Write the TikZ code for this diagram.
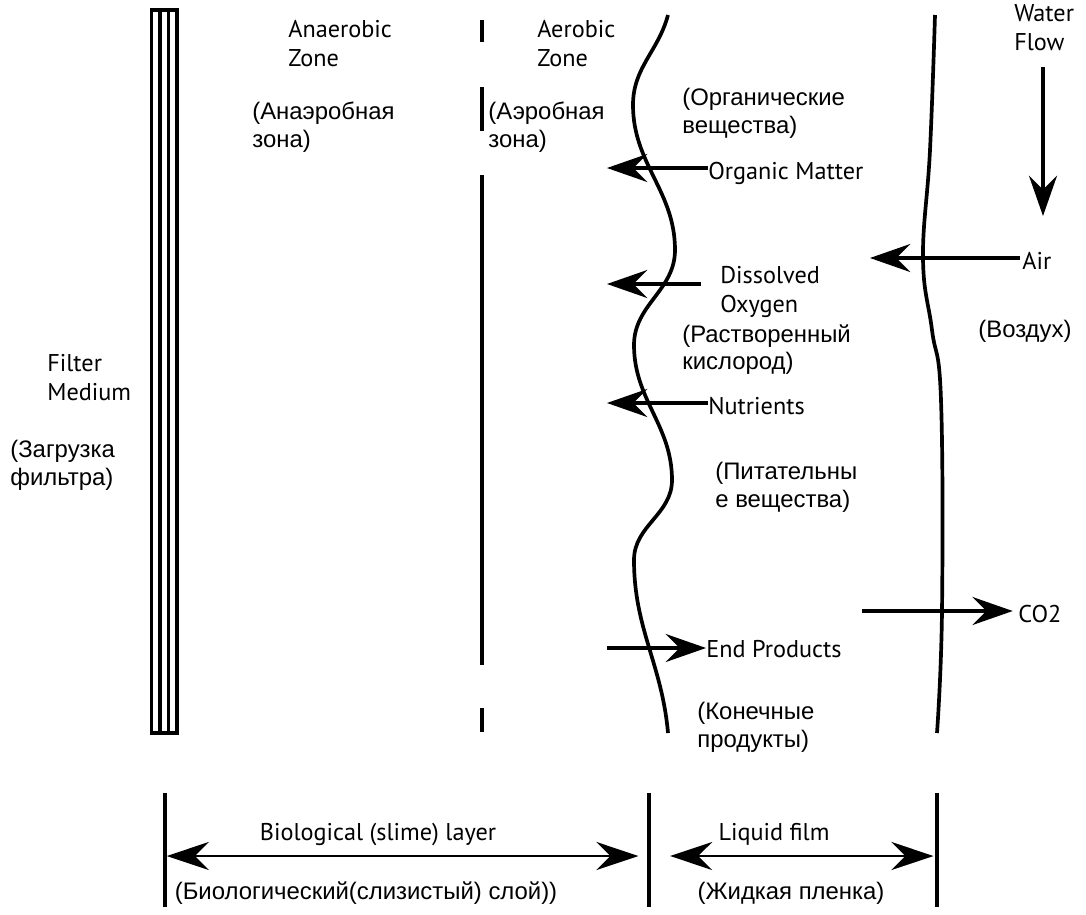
\documentclass[tikz,border=0pt]{standalone}
\usepackage{fontspec}
\setmainfont{PT Sans}
\newfontfamily\rufont{Liberation Sans}
\usetikzlibrary{arrows.meta}

\tikzset{
  en/.style={inner sep=0, anchor=north west, align=left,
    font=\fontsize{13.8}{16.4}\selectfont},
  ru/.style={inner sep=0, anchor=north west, align=left,
    font=\rufont\fontsize{13.6}{15.6}\selectfont},
  wall/.style={line width=2.1pt},
  flow/.style={line width=1.9pt,
    -{Stealth[length=23pt, width=16pt, inset=8pt]}},
  span/.style={line width=1.3pt,
    {Stealth[length=24pt, width=16pt, inset=8pt]}-{Stealth[length=24pt, width=16pt, inset=8pt]}},
}

\begin{document}
\begin{tikzpicture}[x=0.02cm, y=-0.02cm]
  \useasboundingbox (0,0) rectangle (1086,914);

  % filter medium
  \draw[wall] (151.5,10) rectangle (177,733);
  \foreach \xx in {160,168.5}
    \draw[wall] (\xx,10) -- (\xx,733);

  % border between the zones
  \foreach \ya/\yb in {20/42, 87/131, 175/665, 708/732}
    \draw[wall] (482,\ya) -- (482,\yb);

  % biofilm surface
  \draw[wall] (668,15) to[out=-105, in=90] (633,105)
    to[out=-90, in=90] (675,250) to[out=-90, in=90] (634,345)
    to[out=-90, in=90] (672,480) to[out=-90, in=90] (634,560)
    to[out=-90, in=95] (668,733);

  % water surface
  \draw[wall] plot[smooth, tension=0.7] coordinates {
    (935,15) (930,150) (923,258) (932,330) (941,400) (942,611)
    (937,733)};

  % labels
  \node[en] (anaer) at (288,20) {Anaerobic\\Zone};
  \node[ru] (anaerRu) at (252,102) {(Анаэробная\\зона)};
  \node[en] (aer) at (537,20) {Aerobic\\Zone};
  \node[ru] (aerRu) at (488,102) {(Аэробная\\зона)};
  \node[en] (water) at (1014,4) {Water\\Flow};
  \node[ru] (orgRu) at (682,88) {(Органические\\вещества)};
  \node[en] (om) at (708,162) {Organic Matter};
  \node[en] (air) at (1022,252) {Air};
  \node[ru] (airRu) at (978,320) {(Воздух)};
  \node[en] (dox) at (720,266) {Dissolved\\Oxygen};
  \node[ru] (doxRu) at (682,324) {(Растворенный\\кислород)};
  \node[en] (nut) at (708,397) {Nutrients};
  \node[ru] (nutRu) at (715,462) {(Питательны\\е вещества)};
  \node[en] (co2) at (1018,605) {CO2};
  \node[en] (endp) at (706,640) {End Products};
  \node[ru] (endRu) at (697,702) {(Конечные\\продукты)};
  \node[en] (filt) at (47,354) {Filter\\Medium};
  \node[ru] (filtRu) at (10,440) {(Загрузка\\фильтра)};

  \node[en, anchor=base] (bio) at (378,840) {Biological (slime) layer};
  \node[ru, anchor=base] (bioRu) at (366,899) {(Биологический(слизистый) слой))};
  \node[en, anchor=base] (liq) at (774,840) {Liquid film};
  \node[ru, anchor=base] (liqRu) at (791,899) {(Жидкая пленка)};

  % arrow ends
  \coordinate (flowTop) at (1043,67);
  \coordinate (flowTip) at (1043,216);
  \coordinate (omTip) at (607,168);
  \coordinate (airTip) at (870,258);
  \coordinate (doxTip) at (607,284);
  \coordinate (nutTip) at (607,403);
  \coordinate (co2Tail) at (862,611);
  \coordinate (endTail) at (607,648);

  \draw[flow] (flowTop) -- (flowTip);
  \draw[flow] (om.west |- omTip) -- (omTip);
  \draw[flow] ([xshift=-1pt]air.west |- airTip) -- (airTip);
  \draw[flow] ([xshift=-11pt]dox.west |- doxTip) -- (doxTip);
  \draw[flow] (nut.west |- nutTip) -- (nutTip);
  \draw[flow] (co2Tail) -- ([xshift=-3pt]co2.west |- co2Tail);
  \draw[flow] (endTail) -- (endp.west |- endTail);

  % bottom scale
  \coordinate (b1) at (165,793);
  \coordinate (b2) at (649,793);
  \coordinate (b3) at (937,793);
  \foreach \b in {b1,b2,b3}
    \draw[wall] (\b) -- ++(0,114);

  \draw[span] ([xshift=1pt]b1 |- 0,856) -- ([xshift=-6pt]b2 |- 0,856);
  \draw[span] ([xshift=12pt]b2 |- 0,856) -- ([xshift=-2pt]b3 |- 0,856);
\end{tikzpicture}
\end{document}
